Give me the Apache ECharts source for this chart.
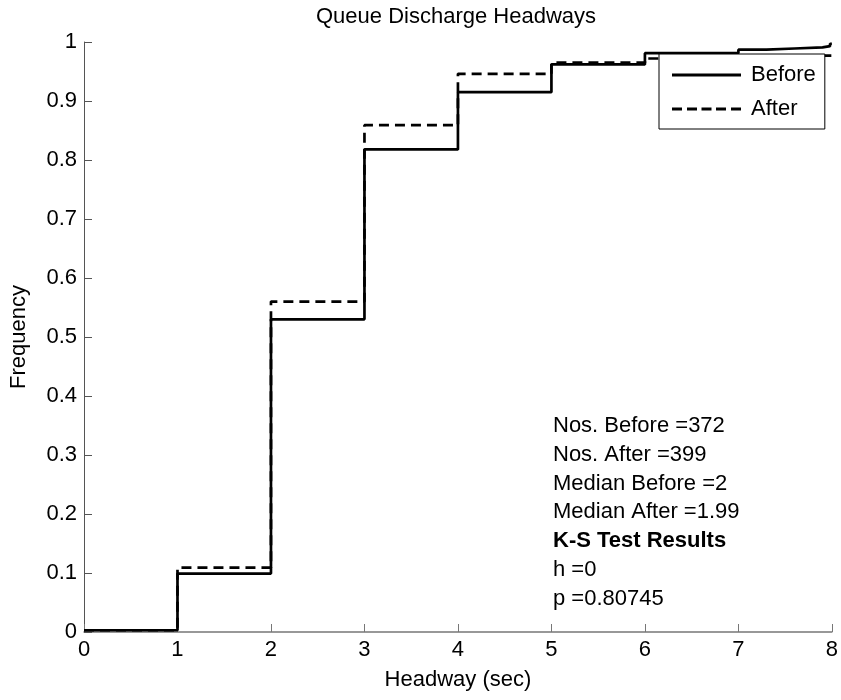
<!DOCTYPE html>
<html>
<head>
<meta charset="utf-8">
<title>Queue Discharge Headways</title>
<script src="https://cdn.jsdelivr.net/npm/echarts@6/dist/echarts.min.js"></script>
<style>
  html, body { margin: 0; padding: 0; background: #fff; }
  #chart { width: 841px; height: 700px; }
</style>
</head>
<body>
<div id="chart"></div>
<script>
// Empirical CDFs of queue discharge headways (x = headway in sec, y = cumulative frequency)
const beforeX = [0, 1, 2, 3, 4, 5, 6, 7, 7.3, 7.6, 7.9, 7.98, 8];
const beforeY = [0.003, 0.099, 0.530, 0.818, 0.915, 0.962, 0.981, 0.987, 0.989, 0.991, 0.993, 0.997, 0.997];
const afterX = [0, 1, 2, 3, 4, 5, 6, 7, 8];
const afterY = [0.003, 0.109, 0.560, 0.859, 0.946, 0.965, 0.972, 0.977, 0.977];

const seriesNames = ['Before', 'After'];
const xTicks = { min: 0, max: 8, interval: 1 };
const yTicks = { min: 0, max: 1, interval: 0.1 };

const statLines = [
  'Nos. Before =372',
  'Nos. After =399',
  'Median Before =2',
  'Median After =1.99',
  'K-S Test Results',
  'h =0',
  'p =0.80745'
];
const boldLine = 'K-S Test Results';

const FONT = '"Liberation Sans", Arial, Helvetica, sans-serif';
const FS = 22;

// legend swatches: a plain bar for the solid line, five short bars for the dashed one
const SOLID_ICON = 'path://M0,0h69v3h-69z';
const DASH_ICON = 'path://M0,0h10v3h-10z M15,0h10v3h-10z M29.5,0h10v3h-10z M44,0h10v3h-10z M59,0h10v3h-10z';

const pairs = (xs, ys) => xs.map((x, i) => [x, ys[i]]);

const chart = echarts.init(document.getElementById('chart'), null, { renderer: 'canvas' });

const statGraphics = statLines.map((t, i) => ({
  type: 'text',
  left: 553,
  top: 425.8 + i * 28.85 - FS / 2,
  style: {
    text: t,
    fill: '#000',
    font: (t === boldLine ? 'bold ' : '') + FS + 'px ' + FONT
  },
  z: 10
}));

chart.setOption({
  animation: false,
  backgroundColor: '#fff',
  textStyle: { fontFamily: FONT },
  title: {
    text: 'Queue Discharge Headways',
    left: 451,
    top: 1,
    textAlign: 'center',
    textStyle: { fontFamily: FONT, fontSize: FS, fontWeight: 'normal', color: '#000' }
  },
  grid: { left: 82, right: 8, top: 42, bottom: 68, containLabel: false },
  legend: {
    data: [
      { name: seriesNames[0], icon: SOLID_ICON },
      { name: seriesNames[1], icon: DASH_ICON }
    ],
    orient: 'vertical',
    left: 659,
    top: 54,
    padding: [10, 9, 9, 13],
    itemWidth: 69,
    itemHeight: 3,
    itemGap: 12,
    backgroundColor: '#fff',
    borderColor: '#000',
    borderWidth: 1,
    borderRadius: 0,
    itemStyle: { color: '#000' },
    textStyle: { fontFamily: FONT, fontSize: FS, color: '#000', padding: [0, 0, 0, 5] }
  },
  xAxis: {
    type: 'value',
    min: xTicks.min,
    max: xTicks.max,
    interval: xTicks.interval,
    name: 'Headway (sec)',
    nameLocation: 'middle',
    nameGap: 37,
    nameTextStyle: { fontFamily: FONT, fontSize: FS, color: '#000' },
    axisLine: { show: true, onZero: false, lineStyle: { color: '#777', width: 1.5 } },
    axisTick: { show: true, inside: true, length: 8, lineStyle: { color: '#777' } },
    axisLabel: { margin: 7, fontFamily: FONT, fontSize: FS, color: '#000' },
    splitLine: { show: false }
  },
  yAxis: {
    type: 'value',
    min: yTicks.min,
    max: yTicks.max,
    interval: yTicks.interval,
    name: 'Frequency',
    nameLocation: 'middle',
    nameGap: 54,
    nameTextStyle: { fontFamily: FONT, fontSize: FS, color: '#000' },
    axisLine: { show: true, onZero: false, lineStyle: { color: '#555', width: 1 } },
    axisTick: { show: true, inside: true, length: 8, lineStyle: { color: '#555' } },
    axisLabel: { margin: 7, fontFamily: FONT, fontSize: FS, color: '#000' },
    splitLine: { show: false }
  },
  series: [
    {
      name: seriesNames[0],
      type: 'line',
      step: 'end',
      data: pairs(beforeX, beforeY),
      symbol: 'none',
      lineStyle: { color: '#000', width: 2.7, type: 'solid' },
      itemStyle: { color: '#000' },
      z: 2
    },
    {
      name: seriesNames[1],
      type: 'line',
      step: 'end',
      data: pairs(afterX, afterY),
      symbol: 'none',
      lineStyle: { color: '#000', width: 2.7, type: [10, 6] },
      itemStyle: { color: '#000' },
      z: 3
    }
  ],
  graphic: statGraphics
});
</script>
</body>
</html>
